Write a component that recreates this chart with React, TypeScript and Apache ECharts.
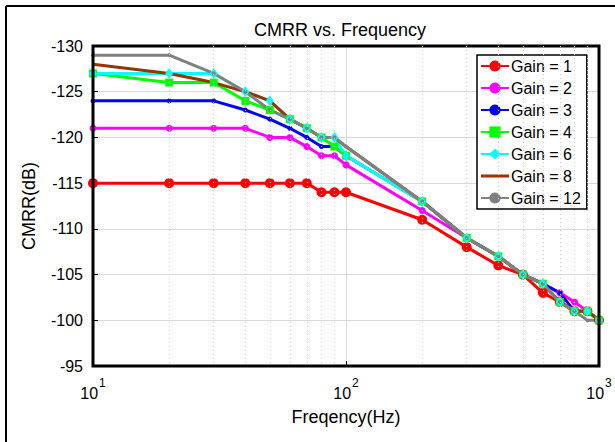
import React, { useEffect, useRef } from "react";
import * as echarts from "echarts";

const freqs = [10, 20, 30, 40, 50, 60, 70, 80, 90, 100, 200, 300, 400, 500, 600, 700, 800, 900, 1000];
const gain1 = [-115, -115, -115, -115, -115, -115, -115, -114, -114, -114, -111, -108, -106, -105, -103, -102, -101, -101, -100];
const gain2 = [-121, -121, -121, -121, -120, -120, -119, -118, -118, -117, -112, -109, -107, -105, -104, -103, -102, -101, -100];
const gain3 = [-124, -124, -124, -123, -122, -121, -120, -119, -119, -118, -113, -109, -107, -105, -104, -103, -101, -101, -100];
const gain4 = [-127, -126, -126, -124, -123, -122, -121, -120, -119, -118, -113, -109, -107, -105, -104, -102, -101, -101, -100];
const gain6 = [-127, -127, -127, -125, -124, -122, -121, -120, -120, -118, -113, -109, -107, -105, -104, -102, -101, -101, -100];
const gain8 = [-128, -127, -126, -125, -124, -122, -121, -120, -120, -119, -113, -109, -107, -105, -104, -102, -101, -101, -100];
const gain12 = [-129, -129, -127, -125, -123, -122, -121, -120, -120, -119, -113, -109, -107, -105, -104, -102, -101, -100, -100];
const minorFreqs = [20, 30, 40, 50, 60, 70, 80, 90, 200, 300, 400, 500, 600, 700, 800, 900];

const FONT = "'Liberation Sans', Arial, sans-serif";

export default function App() {
  const ref = useRef<HTMLDivElement>(null);
  useEffect(() => {
    document.body.style.margin = "0";
    const chart = echarts.init(ref.current!, undefined, { renderer: "svg" });
    const mk = (
      name: string,
      vals: number[],
      color: string,
      symbol: string,
      size: number | number[]
    ) => ({
      name,
      type: "line",
      data: freqs.map((f, i) => [f, vals[i]]),
      symbol,
      symbolSize: size,
      showSymbol: symbol !== "none",
      lineStyle: { color, width: 3 },
      itemStyle: { color, borderColor: color, borderWidth: 0, opacity: 1 },
      z: 3,
    });
    chart.setOption({
      animation: false,
      textStyle: { fontFamily: FONT },
      title: {
        text: "CMRR vs. Frequency",
        left: 340,
        top: 21,
        textAlign: "center",
        padding: 0,
        textStyle: { fontSize: 18, fontWeight: "normal", color: "#000", fontFamily: FONT },
      },
      legend: {
        orient: "vertical",
        left: 477,
        top: 55,
        padding: [3, 6, 3, 3],
        itemWidth: 28,
        itemHeight: 14,
        itemGap: 6,
        borderColor: "#000",
        borderWidth: 1.5,
        backgroundColor: "#fff",
        textStyle: { fontSize: 16, color: "#000", fontFamily: FONT, padding: [0, 0, 0, -3] },
        data: [
          { name: "Gain = 1" },
          { name: "Gain = 2" },
          { name: "Gain = 3" },
          { name: "Gain = 4" },
          { name: "Gain = 6" },
          { name: "Gain = 8", icon: "path://M0 0H28V3H0Z" },
          { name: "Gain = 12" },
        ],
      },
      grid: {
        left: 93,
        right: 16,
        top: 46,
        bottom: 76,
        show: true,
        borderColor: "#000",
        borderWidth: 3,
        z: 5,
      },
      graphic: [
        { type: "line", shape: { x1: 6, y1: 6, x2: 615, y2: 6 }, style: { stroke: "#000", lineWidth: 2 } },
        { type: "line", shape: { x1: 6, y1: 6, x2: 6, y2: 442 }, style: { stroke: "#000", lineWidth: 2 } },
      ],
      xAxis: {
        type: "log",
        logBase: 10,
        min: 10,
        max: 1000,
        name: "Freqency(Hz)",
        nameLocation: "middle",
        nameGap: 42,
        nameTextStyle: { fontSize: 18, color: "#000", fontFamily: FONT },
        axisLine: { show: false },
        axisTick: { inside: true, length: 5, lineStyle: { color: "#000" } },
        splitLine: { show: true, lineStyle: { color: "#d9d9d9", width: 1 } },
        axisLabel: {
          margin: 11,
          color: "#000",
          formatter: (v: number) => `{b|10}{s|${Math.round(Math.log10(v))}}`,
          rich: {
            b: { fontSize: 16, color: "#000", fontFamily: FONT },
            s: { fontSize: 12, color: "#000", fontFamily: FONT, padding: [0, 0, 20, 1] },
          },
        },
      },
      yAxis: {
        type: "value",
        inverse: true,
        min: -130,
        max: -95,
        interval: 5,
        name: "CMRR(dB)",
        nameLocation: "middle",
        nameGap: 55,
        nameTextStyle: { fontSize: 18, color: "#000", fontFamily: FONT },
        axisLine: { show: false },
        axisTick: { inside: true, length: 5, lineStyle: { color: "#000" } },
        splitLine: { show: true, lineStyle: { color: "#d9d9d9", width: 1 } },
        axisLabel: { fontSize: 16, color: "#000", margin: 10, fontFamily: FONT },
      },
      series: [
        {
          name: "minor",
          type: "line",
          data: [],
          silent: true,
          z: 1,
          markLine: {
            silent: true,
            symbol: "none",
            label: { show: false },
            lineStyle: { color: "#cfcfcf", type: [1, 3], width: 1 },
            data: minorFreqs.map((f) => ({ xAxis: f })),
          },
        },
        mk("Gain = 1", gain1, "#ff0000", "circle", 10),
        mk("Gain = 2", gain2, "#ff00ff", "circle", 7),
        mk("Gain = 3", gain3, "#0000ff", "circle", 5),
        mk("Gain = 4", gain4, "#00ff00", "rect", 8),
        mk("Gain = 6", gain6, "#00ffff", "diamond", [8, 11]),
        mk("Gain = 8", gain8, "#993300", "none", 0),
        mk("Gain = 12", gain12, "#808080", "circle", 4),
      ],
    });
    return () => chart.dispose();
  }, []);
  return <div ref={ref} style={{ width: 615, height: 442 }} />;
}
